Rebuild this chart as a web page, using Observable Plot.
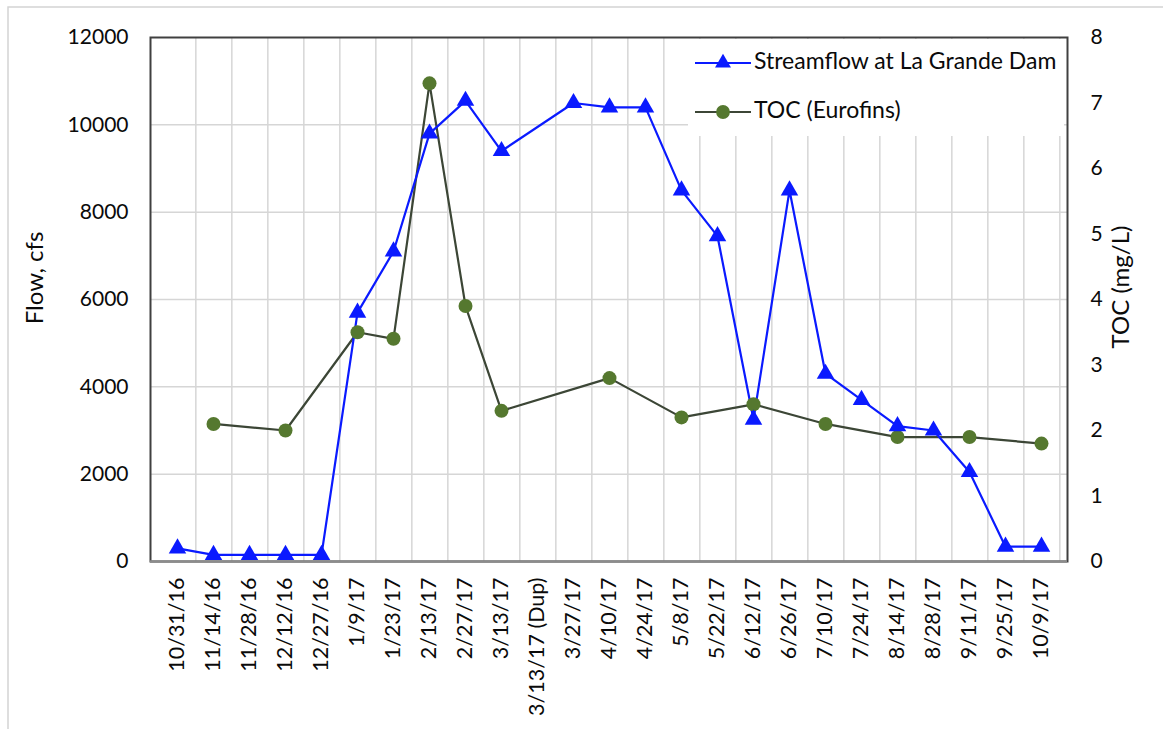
<!DOCTYPE html>
<html>
<head>
<meta charset="utf-8">
<script src="https://cdn.jsdelivr.net/npm/d3@7"></script>
<script src="https://cdn.jsdelivr.net/npm/@observablehq/plot@0.6"></script>
<style>
  html, body { margin: 0; padding: 0; background: #fff; }
  #chart { position: relative; width: 1163px; height: 729px; overflow: hidden; }
</style>
</head>
<body>
<div id="chart"></div>
<script>
const dates = ["10/31/16","11/14/16","11/28/16","12/12/16","12/27/16","1/9/17","1/23/17","2/13/17","2/27/17","3/13/17","3/13/17 (Dup)","3/27/17","4/10/17","4/24/17","5/8/17","5/22/17","6/12/17","6/26/17","7/10/17","7/24/17","8/14/17","8/28/17","9/11/17","9/25/17","10/9/17"];
const flow = [300,150,150,150,150,5700,7100,9800,10550,9400,null,10500,10400,10400,8500,7450,3250,8500,4300,3700,3100,3000,2050,340,340];
const toc  = [null,2.1,null,2.0,null,3.5,3.4,7.3,3.9,2.3,null,null,2.8,null,2.2,null,2.4,null,2.1,null,1.9,null,1.9,null,1.8];
const flowTicks = [0,2000,4000,6000,8000,10000,12000];
const tocTicks = [0,1,2,3,4,5,6,7,8];
const flowMax = 12000, tocMax = 8;
const k = flowMax / tocMax;

const flowName = "Streamflow at La Grande Dam";
const tocName = "TOC (Eurofins)";
const blue = "#0a1aff", tocLine = "#3c4636", tocFill = "#55782f";

const flowData = dates.map((d,i)=>({date:d, v:flow[i]})).filter(d=>d.v!=null);
const tocData = dates.map((d,i)=>({date:d, v:toc[i]==null?null:toc[i]*k})).filter(d=>d.v!=null);

const W = 1163, H = 729, mL = 150, mR = 96, mT = 37, mB = 168;
const step = (W - mL - mR) / dates.length;
const font = "Lato, 'Open Sans', sans-serif";

const plot = Plot.plot({
  width: W, height: H,
  marginLeft: mL, marginRight: mR, marginTop: mT, marginBottom: mB,
  style: {fontFamily: font, fontSize: "21px", color: "#0a0a0a", background: "transparent"},
  x: {type: "point", domain: dates, padding: 0.5, align: 0.5},
  y: {domain: [0, flowMax]},
  marks: [
    Plot.ruleY(flowTicks.slice(1,-1), {stroke: "#d6d6d6", strokeWidth: 1.5}),
    Plot.ruleX(dates, {x: d=>d, dx: step/2, stroke: "#d6d6d6", strokeWidth: 1.5}),
    Plot.axisY({anchor: "left", ticks: flowTicks, tickFormat: d3.format("d"), tickSize: 0, tickPadding: 22, label: null, fontSize: 21}),
    Plot.axisY({anchor: "right", ticks: tocTicks.map(t=>t*k), tickFormat: d=>String(d/k), tickSize: 0, tickPadding: 23, label: null, fontSize: 21}),
    Plot.axisX({anchor: "bottom", tickRotate: -90, tickSize: 0, tickPadding: 16, label: null, fontSize: 21.5}),
    Plot.frame({stroke: "#404040", strokeWidth: 2}),
    Plot.ruleY([0], {stroke: "#8c8c8c", strokeWidth: 2.5}),
    Plot.line(tocData, {x: "date", y: "v", stroke: tocLine, strokeWidth: 2.2}),
    Plot.line(flowData, {x: "date", y: "v", stroke: blue, strokeWidth: 2.2}),
    Plot.dot(tocData, {x: "date", y: "v", r: 7, fill: tocFill, stroke: "none"}),
    Plot.dot(flowData, {x: "date", y: "v", symbol: "triangle", r: 6.5, fill: blue, stroke: "none"})
  ]
});

document.getElementById("chart").appendChild(plot);
const svg = d3.select(plot);

// outer faint border
svg.insert("rect", ":first-child")
  .attr("x", 8).attr("y", 7).attr("width", 1300).attr("height", 900)
  .attr("fill", "#fff").attr("stroke", "#d4d4d4").attr("stroke-width", 1.5);

// axis titles
svg.append("text").attr("transform", "translate(37,278) rotate(-90)")
  .attr("text-anchor", "middle").attr("dominant-baseline", "middle")
  .attr("font-family", font).attr("font-size", 24).attr("fill", "#0a0a0a").text("Flow, cfs");
svg.append("text").attr("transform", "translate(1123,287) rotate(-90)")
  .attr("text-anchor", "middle").attr("dominant-baseline", "middle")
  .attr("font-family", font).attr("font-size", 24).attr("fill", "#0a0a0a").text("TOC (mg/L)");

// legend
const lg = svg.append("g");
lg.append("rect").attr("x", 688).attr("y", 39).attr("width", 376).attr("height", 97).attr("fill", "#fff");
const items = [
  {name: flowName, y: 63, stroke: blue, fill: blue, sym: d3.symbolTriangle, size: 110},
  {name: tocName, y: 112, stroke: tocLine, fill: tocFill, sym: d3.symbolCircle, size: 150}
];
for (const it of items) {
  lg.append("line").attr("x1", 695).attr("x2", 751).attr("y1", it.y).attr("y2", it.y)
    .attr("stroke", it.stroke).attr("stroke-width", 2.2);
  lg.append("path").attr("d", d3.symbol(it.sym, it.size)()).attr("transform", `translate(723,${it.y})`)
    .attr("fill", it.fill);
  lg.append("text").attr("x", 754).attr("y", it.y).attr("dominant-baseline", "middle")
    .attr("text-anchor", "start")
    .attr("font-family", font).attr("font-size", 23).attr("fill", "#0a0a0a").text(it.name);
}
</script>
</body>
</html>
